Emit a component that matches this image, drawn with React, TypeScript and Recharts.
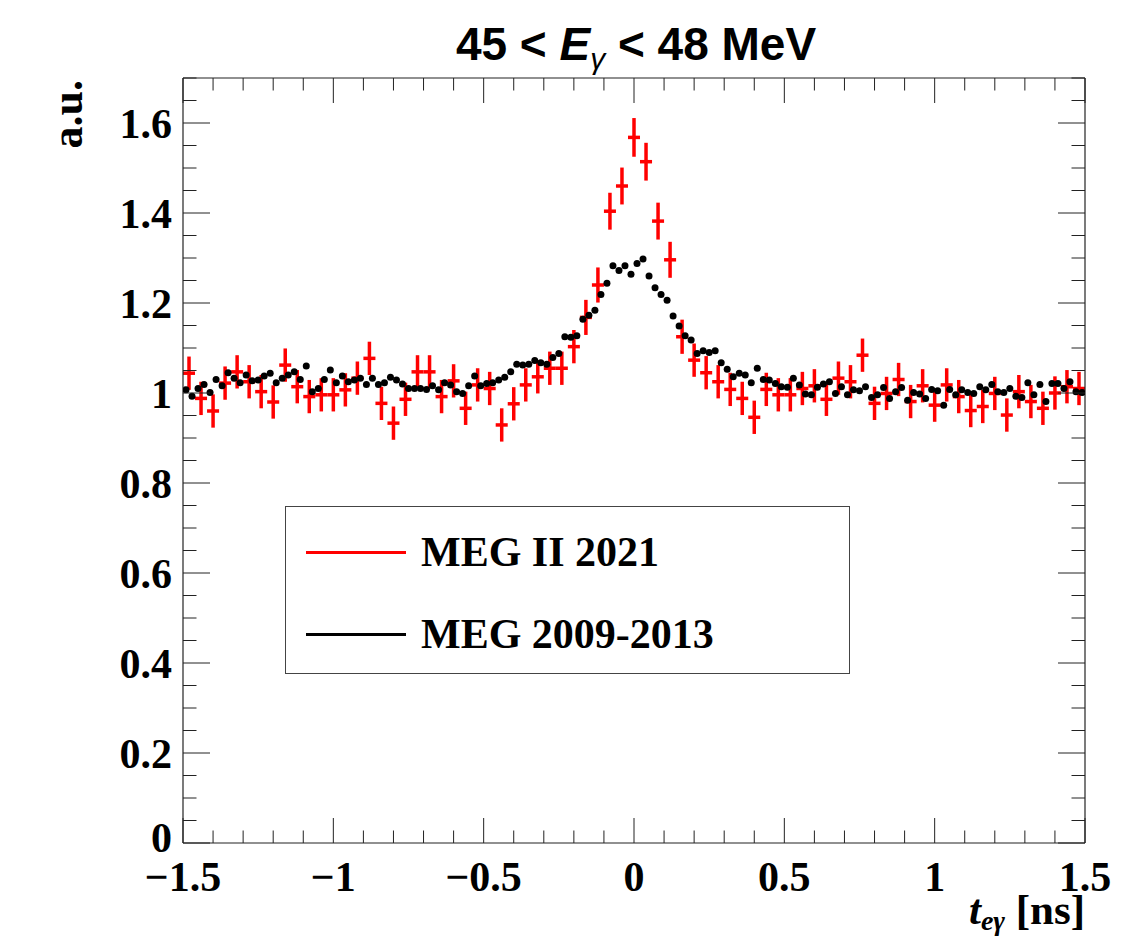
import React from 'react';
import { ComposedChart, Scatter, XAxis, YAxis, ErrorBar, Legend } from 'recharts';

const W = 1143;
const H = 942;

// ---------- data ----------
const redFirstCenter = -1.48;
const redBinWidth = 0.04;
const redValues = [
  1.044, 0.988, 0.960, 1.022, 1.047, 1.025, 1.003, 0.980, 1.062, 1.014,
  0.992, 0.996, 0.996, 1.007, 1.033, 1.077, 0.977, 0.933, 0.986, 1.047,
  1.047, 0.992, 1.027, 0.966, 1.018, 1.010, 0.929, 0.976, 1.018, 1.036,
  1.055, 1.055, 1.103, 1.168, 1.240, 1.404, 1.460, 1.568, 1.514, 1.382,
  1.296, 1.125, 1.073, 1.045, 1.025, 1.008, 0.988, 0.946, 1.008, 0.996,
  0.996, 1.010, 1.016, 0.986, 1.033, 1.025, 1.084, 0.977, 0.999, 1.030,
  0.981, 1.016, 0.973, 1.018, 0.992, 0.961, 0.970, 0.999, 0.951, 1.003,
  0.981, 0.966, 1.000, 1.014, 1.010,
];
const redErrors = [
  0.037, 0.037, 0.037, 0.037, 0.037, 0.037, 0.037, 0.037, 0.037, 0.037,
  0.037, 0.037, 0.037, 0.037, 0.037, 0.037, 0.037, 0.037, 0.037, 0.037,
  0.037, 0.037, 0.037, 0.037, 0.037, 0.037, 0.037, 0.037, 0.037, 0.037,
  0.037, 0.037, 0.037, 0.039, 0.039, 0.041, 0.041, 0.043, 0.042, 0.041,
  0.040, 0.038, 0.037, 0.037, 0.037, 0.037, 0.037, 0.037, 0.037, 0.037,
  0.037, 0.037, 0.037, 0.037, 0.037, 0.037, 0.037, 0.037, 0.037, 0.037,
  0.037, 0.037, 0.037, 0.037, 0.037, 0.037, 0.037, 0.037, 0.037, 0.037,
  0.037, 0.037, 0.037, 0.037, 0.037,
];

const blackFirstCenter = -1.49;
const blackBinWidth = 0.02;
const blackValues = [
  1.007, 0.993, 1.010, 1.019, 1.001, 1.030, 1.016, 1.045, 1.033, 1.023,
  1.040, 1.027, 1.029, 1.038, 1.044, 1.023, 1.033, 1.040, 1.047, 1.030,
  1.060, 1.003, 1.010, 1.030, 1.051, 1.023, 1.038, 1.025, 1.029, 1.033,
  1.019, 1.033, 1.019, 1.023, 1.035, 1.029, 1.020, 1.010, 1.010, 1.010,
  1.008, 1.016, 1.007, 1.023, 1.018, 1.003, 0.999, 1.016, 1.038, 1.016,
  1.021, 1.023, 1.029, 1.035, 1.047, 1.064, 1.062, 1.064, 1.072, 1.067,
  1.064, 1.079, 1.088, 1.125, 1.124, 1.127, 1.164, 1.173, 1.184, 1.219,
  1.244, 1.283, 1.272, 1.283, 1.264, 1.288, 1.298, 1.260, 1.234, 1.219,
  1.206, 1.171, 1.149, 1.127, 1.118, 1.088, 1.094, 1.090, 1.094, 1.067,
  1.053, 1.036, 1.044, 1.040, 1.023, 1.055, 1.030, 1.029, 1.021, 1.014,
  1.013, 1.033, 1.018, 0.998, 0.996, 1.013, 1.020, 1.025, 0.999, 1.014,
  0.996, 1.007, 1.005, 1.014, 0.990, 0.996, 1.012, 0.988, 1.003, 1.012,
  0.984, 1.001, 0.998, 0.988, 1.008, 1.005, 0.973, 1.008, 0.996, 1.007,
  1.001, 0.999, 1.014, 1.007, 1.019, 1.003, 1.001, 1.010, 0.993, 0.990,
  1.023, 0.996, 1.019, 0.981, 1.021, 1.021, 1.010, 1.025, 1.003, 1.001,
];

const seriesNames = ['MEG II 2021', 'MEG 2009-2013'];
const seriesColors = ['#ff0000', '#000000'];

// ---------- axes ----------
const xDomain: [number, number] = [-1.5, 1.5];
const yDomain: [number, number] = [0, 1.7];
const xMajorTicks = [-1.5, -1, -0.5, 0, 0.5, 1, 1.5];
const xMajorLabels = ['\u22121.5', '\u22121', '\u22120.5', '0', '0.5', '1', '1.5'];
const yMajorTicks = [0, 0.2, 0.4, 0.6, 0.8, 1, 1.2, 1.4, 1.6];
const yMajorLabels = ['0', '0.2', '0.4', '0.6', '0.8', '1', '1.2', '1.4', '1.6'];
const xMinorStep = 0.1;
const yMinorStep = 0.05;

const xAllTicks: number[] = [];
for (let i = 0; i <= Math.round((xDomain[1] - xDomain[0]) / xMinorStep); i++) {
  xAllTicks.push(Math.round((xDomain[0] + i * xMinorStep) * 1000) / 1000);
}
const yAllTicks: number[] = [];
for (let i = 0; i <= Math.round((yDomain[1] - yDomain[0]) / yMinorStep); i++) {
  yAllTicks.push(Math.round((yDomain[0] + i * yMinorStep) * 1000) / 1000);
}

const redData = redValues.map((v, i) => ({
  x: Math.round((redFirstCenter + i * redBinWidth) * 1000) / 1000,
  y: v,
  ey: redErrors[i],
  ex: redBinWidth / 2,
}));
const blackData = blackValues.map((v, i) => ({
  x: Math.round((blackFirstCenter + i * blackBinWidth) * 1000) / 1000,
  y: v,
}));

const SERIF = "'Liberation Serif', 'Times New Roman', Times, serif";
const SANS = "'Liberation Sans', Arial, Helvetica, sans-serif";
const LABEL_SIZE = 42;

const X_MAJOR_LEN = 25;
const X_MINOR_LEN = 12.5;
const Y_MAJOR_LEN = 27;
const Y_MINOR_LEN = 13.5;

const majorIndex = (list: number[], v: number) => list.findIndex((m) => Math.abs(m - v) < 1e-6);

const XTick = (props: any) => {
  const { x, y, payload, side } = props;
  const idx = majorIndex(xMajorTicks, payload.value);
  const len = idx >= 0 ? X_MAJOR_LEN : X_MINOR_LEN;
  const dir = side === 'bottom' ? -1 : 1;
  return (
    <g>
      <line x1={x} y1={y} x2={x} y2={y + dir * len} stroke="#222" strokeWidth={1} />
      {side === 'bottom' && idx >= 0 && (
        <text x={x} y={y + 48} textAnchor="middle" fontFamily={SERIF} fontWeight="bold" fontSize={LABEL_SIZE} fill="#000">
          {xMajorLabels[idx]}
        </text>
      )}
    </g>
  );
};

const YTick = (props: any) => {
  const { x, y, payload, side } = props;
  const idx = majorIndex(yMajorTicks, payload.value);
  const len = idx >= 0 ? Y_MAJOR_LEN : Y_MINOR_LEN;
  const dir = side === 'left' ? 1 : -1;
  return (
    <g>
      <line x1={x} y1={y} x2={x + dir * len} y2={y} stroke="#222" strokeWidth={1} />
      {side === 'left' && idx >= 0 && (
        <text x={x - 11} y={y} dy={idx === 0 ? '0.22em' : '0.35em'} textAnchor="end" fontFamily={SERIF} fontWeight="bold" fontSize={LABEL_SIZE} fill="#000">
          {yMajorLabels[idx]}
        </text>
      )}
    </g>
  );
};

const Dot = (props: any) => {
  const { cx, cy } = props;
  if (cx == null || cy == null) return <g />;
  return <circle cx={cx} cy={cy} r={3.5} fill="#000" />;
};

const LegendBox = () => (
  <div
    style={{
      position: 'relative',
      width: 565,
      height: 168,
      boxSizing: 'border-box',
      border: '1.5px solid #444',
      background: '#fff',
    }}
  >
    {seriesNames.map((name, i) => {
      const cy = i === 0 ? 45 : 127;
      return (
        <React.Fragment key={name}>
          <div style={{ position: 'absolute', left: 20, top: cy - 1.5, width: 100, height: 3, background: seriesColors[i] }} />
          <div
            style={{
              position: 'absolute',
              left: 135,
              top: cy - 25,
              height: 50,
              lineHeight: '50px',
              fontFamily: SERIF,
              fontWeight: 'bold',
              fontSize: LABEL_SIZE,
              color: '#000',
              whiteSpace: 'nowrap',
            }}
          >
            {name}
          </div>
        </React.Fragment>
      );
    })}
  </div>
);

export default function App() {
  return (
    <div style={{ position: 'absolute', left: 0, top: 0, width: W, height: H, background: '#fff' }}>
      <ComposedChart width={W} height={H} margin={{ top: 0, right: 0, bottom: 0, left: 0 }}>
        <XAxis
          xAxisId="b"
          type="number"
          dataKey="x"
          orientation="bottom"
          domain={xDomain}
          ticks={xAllTicks}
          interval={0}
          height={99}
          tickSize={0}
          tickMargin={0}
          tickLine={false}
          axisLine={{ stroke: '#222', strokeWidth: 1.2 }}
          tick={(p: any) => <XTick {...p} side="bottom" />}
          allowDataOverflow
        />
        <XAxis
          xAxisId="t"
          type="number"
          dataKey="x"
          orientation="top"
          domain={xDomain}
          ticks={xAllTicks}
          interval={0}
          height={78}
          tickSize={0}
          tickMargin={0}
          tickLine={false}
          axisLine={{ stroke: '#222', strokeWidth: 1.2 }}
          tick={(p: any) => <XTick {...p} side="top" />}
          allowDataOverflow
        />
        <YAxis
          yAxisId="l"
          type="number"
          orientation="left"
          domain={yDomain}
          ticks={yAllTicks}
          interval={0}
          width={183}
          tickSize={0}
          tickMargin={0}
          tickLine={false}
          axisLine={{ stroke: '#222', strokeWidth: 1.2 }}
          tick={(p: any) => <YTick {...p} side="left" />}
          allowDataOverflow
        />
        <YAxis
          yAxisId="r"
          type="number"
          orientation="right"
          domain={yDomain}
          ticks={yAllTicks}
          interval={0}
          width={58}
          tickSize={0}
          tickMargin={0}
          tickLine={false}
          axisLine={{ stroke: '#222', strokeWidth: 1.2 }}
          tick={(p: any) => <YTick {...p} side="right" />}
          allowDataOverflow
        />
        <Scatter
          name={seriesNames[0]}
          data={redData}
          xAxisId="b"
          yAxisId="l"
          dataKey="y"
          fill={seriesColors[0]}
          shape={() => <g />}
          isAnimationActive={false}
        >
          <ErrorBar dataKey="ey" direction="y" width={0} stroke={seriesColors[0]} strokeWidth={3.5} isAnimationActive={false} />
          <ErrorBar dataKey="ex" direction="x" width={0} stroke={seriesColors[0]} strokeWidth={3.5} isAnimationActive={false} />
        </Scatter>
        <Scatter
          name={seriesNames[1]}
          data={blackData}
          xAxisId="b"
          yAxisId="l"
          dataKey="y"
          fill={seriesColors[1]}
          shape={Dot}
          isAnimationActive={false}
        />
        <Legend
          layout="vertical"
          align="center"
          verticalAlign="middle"
          wrapperStyle={{ position: 'absolute', left: 285, top: 506, width: 565, height: 168 }}
          content={() => <LegendBox />}
        />
      </ComposedChart>
      <svg width={W} height={H} style={{ position: 'absolute', left: 0, top: 0, pointerEvents: 'none' }}>
        <text x={636} y={60} textAnchor="middle" fontFamily={SANS} fontWeight="bold" fontSize={46} fill="#000">
          {'45 < '}
          <tspan fontStyle="italic">E</tspan>
          <tspan fontStyle="italic" fontWeight="normal" fontSize={30} dy={9}>γ</tspan>
          <tspan dy={-9}>{' < 48 MeV'}</tspan>
        </text>
        <text x={1085} y={924} textAnchor="end" fontFamily={SERIF} fontWeight="bold" fontSize={43} fill="#000">
          <tspan fontStyle="italic">t</tspan>
          <tspan fontStyle="italic" fontSize={28} dy={6}>eγ</tspan>
          <tspan dy={-6}>{' [ns]'}</tspan>
        </text>
        <text transform="translate(82,80) rotate(-90)" textAnchor="end" fontFamily={SERIF} fontWeight="bold" fontSize={44} fill="#000">
          a.u.
        </text>
      </svg>
    </div>
  );
}
